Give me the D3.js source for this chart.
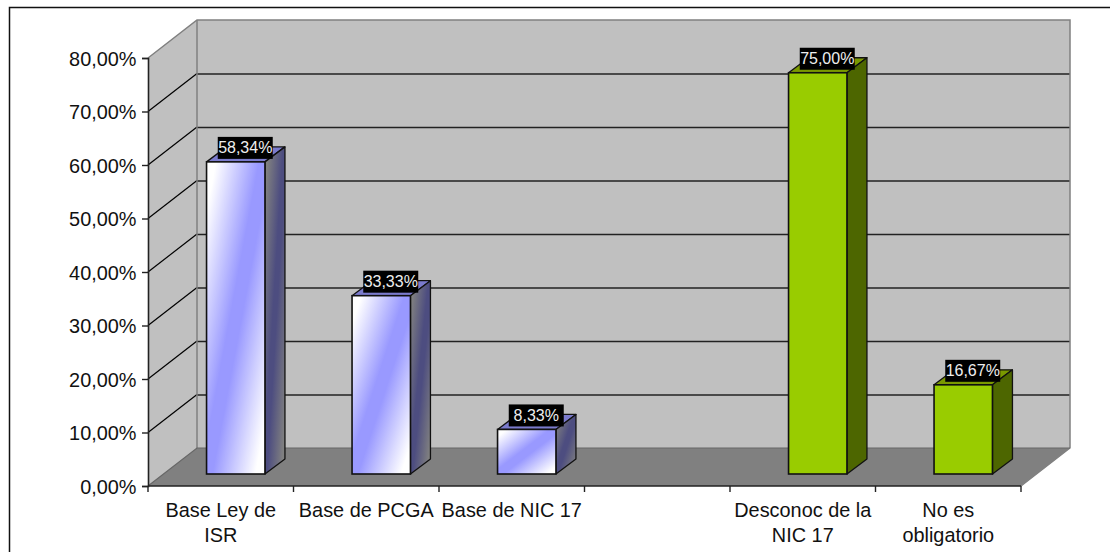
<!DOCTYPE html>
<html>
<head>
<meta charset="utf-8">
<script src="https://cdn.jsdelivr.net/npm/d3@7/dist/d3.min.js"></script>
<style>
html, body { margin: 0; padding: 0; background: #fff; overflow: hidden; }
svg { display: block; }
text { font-family: "Liberation Sans", Arial, sans-serif; }
</style>
</head>
<body>
<svg id="chart" width="1110" height="552"></svg>
<script>
// Chart data
const categories = ["Base Ley de ISR", "Base de PCGA", "Base de NIC 17", "", "Desconoc de la NIC 17", "No es obligatorio"];
const categoryLines = [["Base Ley de", "ISR"], ["Base de PCGA"], ["Base de NIC 17"], [], ["Desconoc de la", "NIC 17"], ["No es", "obligatorio"]];
const values = [58.34, 33.33, 8.33, null, 75.00, 16.67];
const barGroups = ["blue", "blue", "blue", null, "green", "green"];
const yTicks = [0, 10, 20, 30, 40, 50, 60, 70, 80];

// Layout of the pseudo-3D box
const plotLeft = 148, plotRight = 1021, plotTop = 58, plotBottom = 486;
const depthX = 49, depthY = 38;       // offset from the front plane to the back wall
const barInsetX = 15, barInsetY = 12; // bar front face, measured from the front plane
const barDepthX = 20, barDepthY = 15; // bar depth
const barWidth = 58.4;
const stretch = 1.02;                 // axis text is set slightly wide

const svg = d3.select("#chart");
const x = d3.scaleBand().domain(d3.range(categories.length)).range([plotLeft, plotRight]);
const y = d3.scaleLinear().domain([0, 80]).range([plotBottom, plotTop]);
const pct = v => d3.format(".2f")(v).replace(".", ",") + "%";
const pts = a => a.map(p => p.join(",")).join(" ");

// Gradients: diagonal sheen across the bar faces
const defs = svg.append("defs");
function sheen(id, ends, middle) {
  const g = defs.append("linearGradient").attr("id", id)
    .attr("x1", 0).attr("y1", 0).attr("x2", 1).attr("y2", 1);
  [[0, ends], [8, ends], [45, middle], [55, middle], [92, ends], [100, ends]].forEach(([o, c]) =>
    g.append("stop").attr("offset", o + "%").attr("stop-color", c));
}
sheen("blueFront", "#ffffff", "#9999ff");
sheen("blueSide", "#808080", "#4d4d80");

const palette = {
  blue: { front: "url(#blueFront)", side: "url(#blueSide)", top: "#7a7acc" },
  green: { front: "#99cc00", side: "#4d6600", top: "#7a9900" }
};

// Outer frame, open at the right and bottom
svg.append("path").attr("d", d3.line()([[9.5, 552], [9.5, 7.5], [1110, 7.5]]))
  .attr("fill", "none").attr("stroke", "#111").attr("stroke-width", 1.5);

// Walls and floor
const backLeft = plotLeft + depthX, backRight = plotRight + depthX;
svg.append("polygon").attr("points", pts([[plotLeft, plotBottom], [backLeft, plotBottom - depthY], [backLeft, plotTop - depthY], [plotLeft, plotTop]]))
  .attr("fill", "#c0c0c0");
svg.append("rect").attr("x", backLeft).attr("y", plotTop - depthY)
  .attr("width", backRight - backLeft).attr("height", plotBottom - plotTop)
  .attr("fill", "#c0c0c0");
svg.append("polygon").attr("points", pts([[plotLeft, plotBottom], [plotRight, plotBottom], [backRight, plotBottom - depthY], [backLeft, plotBottom - depthY]]))
  .attr("fill", "#808080");

// Gridlines on the side and back walls
const inner = yTicks.filter(v => v > 0 && v < 80);
svg.append("g").selectAll("line").data(inner).join("line")
  .attr("x1", plotLeft).attr("y1", d => y(d))
  .attr("x2", backLeft).attr("y2", d => y(d) - depthY)
  .attr("stroke", "#000").attr("stroke-width", 1.2);
svg.append("g").selectAll("line").data(inner).join("line")
  .attr("x1", backLeft).attr("y1", d => y(d) - depthY + 0.5)
  .attr("x2", backRight).attr("y2", d => y(d) - depthY + 0.5)
  .attr("stroke", "#222").attr("stroke-width", 1.4);

// Grey edges of the box
svg.append("path")
  .attr("d", d3.line()([[plotLeft, plotTop], [backLeft, plotTop - depthY], [backRight, plotTop - depthY], [backRight, plotBottom - depthY], [plotRight, plotBottom]]))
  .attr("fill", "none").attr("stroke", "#808080").attr("stroke-width", 1.5);
svg.append("path")
  .attr("d", d3.line()([[backLeft, plotTop - depthY], [backLeft, plotBottom - depthY]]))
  .attr("stroke", "#808080").attr("stroke-width", 1.5);
svg.append("path")
  .attr("d", d3.line()([[plotLeft, plotBottom], [backLeft, plotBottom - depthY], [backRight, plotBottom - depthY]]))
  .attr("fill", "none").attr("stroke", "#666").attr("stroke-width", 1.2);

// Axes
const yAxis = svg.append("g").attr("transform", `translate(${plotLeft},0)`)
  .call(d3.axisLeft(y).tickValues(yTicks).tickFormat(pct).tickSize(6).tickPadding(5));
yAxis.select(".domain").attr("stroke", "#222").attr("stroke-width", 1.6);
yAxis.selectAll(".tick line").attr("stroke", "#222").attr("stroke-width", 1.4);
yAxis.selectAll(".tick text")
  .attr("x", -11.5 / stretch).attr("dy", "0.36em")
  .attr("transform", `scale(${stretch},1)`)
  .attr("font-size", 19.5).attr("fill", "#111");

const tickEdges = d3.range(categories.length + 1).map(i => plotLeft + i * x.step());
const xAxis = svg.append("g");
xAxis.append("line").attr("x1", plotLeft).attr("x2", plotRight).attr("y1", plotBottom).attr("y2", plotBottom)
  .attr("stroke", "#222").attr("stroke-width", 1.6);
xAxis.selectAll("line.t").data(tickEdges).join("line").attr("class", "t")
  .attr("x1", d => d).attr("x2", d => d).attr("y1", plotBottom).attr("y2", plotBottom + 6)
  .attr("stroke", "#222").attr("stroke-width", 1.4);

// Wrapped category labels under each band
const labels = svg.append("g").selectAll("g").data(categoryLines).join("g")
  .attr("transform", (d, i) => `translate(${x(i) + x.bandwidth() / 2},0) scale(${stretch},1)`);
labels.selectAll("text").data(d => d).join("text")
  .attr("y", (d, i) => 517 + i * 25)
  .attr("text-anchor", "middle")
  .attr("font-size", 19.5).attr("fill", "#111")
  .text(d => d);

// Bars: top and side faces first, then the front
const rows = values.map((v, i) => ({ v, i, group: barGroups[i] })).filter(d => d.v !== null);
const bars = svg.append("g").selectAll("g").data(rows).join("g");
const fx = d => x(d.i) + x.bandwidth() / 2 + barInsetX - barWidth / 2;
const by = plotBottom - barInsetY;
const ty = d => y(d.v) - barInsetY;

bars.append("polygon")
  .attr("points", d => pts([[fx(d), ty(d)], [fx(d) + barWidth, ty(d)], [fx(d) + barWidth + barDepthX, ty(d) - barDepthY], [fx(d) + barDepthX, ty(d) - barDepthY]]))
  .attr("fill", d => palette[d.group].top).attr("stroke", "#111").attr("stroke-width", 1.3).attr("stroke-linejoin", "round");
bars.append("polygon")
  .attr("points", d => pts([[fx(d) + barWidth, by], [fx(d) + barWidth + barDepthX, by - barDepthY], [fx(d) + barWidth + barDepthX, ty(d) - barDepthY], [fx(d) + barWidth, ty(d)]]))
  .attr("fill", d => palette[d.group].side).attr("stroke", "#111").attr("stroke-width", 1.3).attr("stroke-linejoin", "round");
bars.append("rect")
  .attr("x", fx).attr("y", ty).attr("width", barWidth).attr("height", d => by - ty(d))
  .attr("fill", d => palette[d.group].front).attr("stroke", "#111").attr("stroke-width", 1.6);

// Value labels: light text on black boxes above each bar
const tags = svg.append("g").selectAll("g").data(rows).join("g")
  .attr("transform", d => `translate(${fx(d) + barWidth / 2 + barDepthX / 2 - 0.5},${ty(d) - barDepthY + 1})`);
tags.append("rect").attr("x", -27.5).attr("y", -11).attr("width", 55).attr("height", 22).attr("fill", "#000");
tags.append("text")
  .attr("text-anchor", "middle").attr("y", 5.5)
  .attr("font-size", 16).attr("fill", "#eee")
  .text(d => pct(d.v));
</script>
</body>
</html>
